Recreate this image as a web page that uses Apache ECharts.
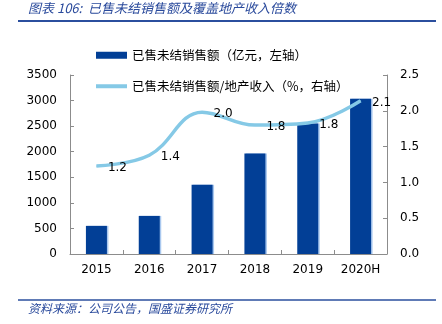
<!DOCTYPE html>
<html><head><meta charset="utf-8">
<script src="https://cdn.jsdelivr.net/npm/echarts@6/dist/echarts.min.js"></script>
<style>html,body{margin:0;padding:0;background:#fff}#c{width:442px;height:324px}</style>
</head><body><div id="c"></div>
<script>
var categories = ['2015','2016','2017','2018','2019','2020H'];
var salesValues = [550, 745, 1355, 1965, 2550, 3035];
var ratioValues = [1.23, 1.38, 1.98, 1.80, 1.83, 2.14];
var leftTicks = {min: 0, max: 3500, interval: 500};
var rightTicks = {min: 0, max: 2.5, interval: 0.5};
var barName = '已售未结销售额（亿元，左轴）';
var lineName = '已售未结销售额/地产收入（%，右轴）';
var titleText = '图表 106:  已售未结销售额及覆盖地产收入倍数';
var sourceText = '资料来源：公司公告，国盛证券研究所';

var chart = echarts.init(document.getElementById('c'), null, {renderer: 'canvas'});
var axisLineStyle = {color: '#8c8c8c', width: 1};
var tickFont = {color: '#000', fontSize: 12, fontFamily: 'DejaVu Sans'};
var legendText = {color: '#000', fontSize: 12.5, fontFamily: 'Noto Sans CJK SC'};
chart.setOption({
  animation: false,
  graphic: [
    {type: 'text', left: 28, top: 2, style: {text: titleText, fill: '#2a4a9c', fontSize: 13, fontStyle: 'italic', fontFamily: 'Noto Sans CJK SC'}},
    {type: 'line', shape: {x1: 18, y1: 21, x2: 436, y2: 21}, style: {stroke: '#2b4f9e', lineWidth: 2}},
    {type: 'line', shape: {x1: 18, y1: 300, x2: 436, y2: 300}, style: {stroke: '#2b4f9e', lineWidth: 1.5}},
    {type: 'text', left: 28, top: 302, style: {text: sourceText, fill: '#2a4a9c', fontSize: 12, fontStyle: 'italic', fontFamily: 'Noto Sans CJK SC'}}
  ],
  legend: [
    {left: 91, top: 44, itemWidth: 31, itemHeight: 7, itemGap: 4, textStyle: legendText,
     data: [{name: barName, icon: 'rect'}]},
    {left: 91, top: 75, itemWidth: 31, itemHeight: 4, itemGap: 4, textStyle: legendText,
     data: [{name: lineName, icon: 'rect'}]}
  ],
  grid: {left: 70, right: 55, top: 75, bottom: 70},
  xAxis: {
    type: 'category', data: categories,
    axisLine: {lineStyle: axisLineStyle},
    axisTick: {show: true, inside: true, length: 4, alignWithLabel: false, lineStyle: axisLineStyle},
    axisLabel: Object.assign({margin: 10}, tickFont)
  },
  yAxis: [
    {type: 'value', min: leftTicks.min, max: leftTicks.max, interval: leftTicks.interval,
     axisLine: {show: true, lineStyle: axisLineStyle},
     axisTick: {show: true, inside: true, length: 4, lineStyle: axisLineStyle},
     splitLine: {show: false},
     axisLabel: Object.assign({margin: 13, formatter: function(v){return String(v);}}, tickFont)},
    {type: 'value', min: rightTicks.min, max: rightTicks.max, interval: rightTicks.interval,
     axisLine: {show: true, lineStyle: axisLineStyle},
     axisTick: {show: true, inside: true, length: 4, lineStyle: axisLineStyle},
     splitLine: {show: false},
     axisLabel: Object.assign({margin: 13, formatter: function(v){return v.toFixed(1);}}, tickFont)}
  ],
  series: [
    {name: barName, type: 'bar', data: salesValues, barWidth: 21, yAxisIndex: 0,
     itemStyle: {color: '#023f96', shadowColor: '#a9c8ef', shadowOffsetX: 1.5, shadowBlur: 0}},
    {name: lineName, type: 'line', data: ratioValues, yAxisIndex: 1, smooth: 0.4,
     symbol: 'circle', symbolSize: 1, showSymbol: true, z: 5,
     lineStyle: {color: '#85c9e6', width: 3.5}, itemStyle: {color: '#85c9e6'},
     label: {show: true, position: 'right', distance: 11, offset: [0, 2], color: '#000', fontSize: 12, fontFamily: 'DejaVu Sans',
       formatter: function(p){return p.value.toFixed(1);}}}
  ]
});
</script></body></html>
